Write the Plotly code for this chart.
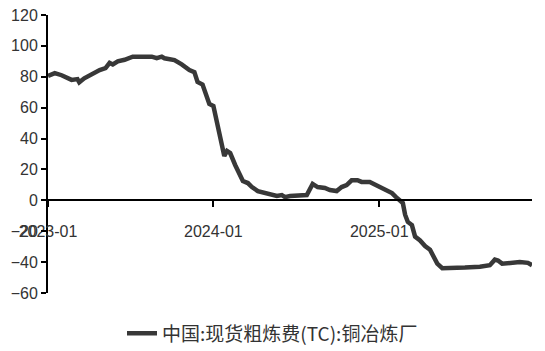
import plotly.graph_objects as go

dates = [
    "2023-01-01", "2023-01-16", "2023-01-31", "2023-02-14", "2023-02-22", "2023-03-07",
    "2023-03-11", "2023-03-22", "2023-04-07", "2023-04-25", "2023-05-08", "2023-05-17",
    "2023-05-24", "2023-06-04", "2023-06-19", "2023-07-07", "2023-07-22", "2023-08-07",
    "2023-08-18", "2023-08-29", "2023-09-09", "2023-09-15", "2023-10-07", "2023-10-23",
    "2023-11-09", "2023-11-20", "2023-11-27", "2023-12-08", "2023-12-14", "2023-12-23",
    "2024-01-01", "2024-01-12", "2024-01-20", "2024-01-25", "2024-01-31", "2024-02-07",
    "2024-02-18", "2024-02-29", "2024-03-06", "2024-03-17", "2024-03-26", "2024-04-08",
    "2024-04-24", "2024-05-09", "2024-05-20", "2024-05-31", "2024-06-07", "2024-06-18",
    "2024-07-10", "2024-07-25", "2024-08-07", "2024-08-18", "2024-09-03", "2024-09-14",
    "2024-09-29", "2024-10-10", "2024-10-21", "2024-11-01", "2024-11-14", "2024-11-23",
    "2024-12-11", "2024-12-28", "2025-01-13", "2025-01-29", "2025-02-07", "2025-02-16",
    "2025-02-22", "2025-02-27", "2025-03-05", "2025-03-14", "2025-03-21", "2025-04-01",
    "2025-04-12", "2025-04-23", "2025-05-02", "2025-05-09", "2025-05-20", "2025-06-02",
    "2025-06-17", "2025-07-09", "2025-08-11", "2025-09-02", "2025-09-13", "2025-09-20",
    "2025-09-29", "2025-10-16", "2025-11-07", "2025-11-25", "2025-12-04",
]
tc_values = [
    80.5, 82.4, 81.0, 79.0, 78.0, 78.5,
    76.4, 79.0, 81.8, 84.4, 85.6, 89.0,
    88.0, 90.0, 91.0, 93.0, 93.0, 92.8,
    93.0, 92.0, 93.0, 92.0, 90.8, 88.0,
    84.4, 83.0, 76.6, 75.0, 69.5, 62.4,
    61.0, 45.5, 32.6, 28.7, 32.0, 30.6,
    22.9, 16.4, 12.5, 11.2, 8.6, 6.0,
    4.7, 4.1, 2.8, 3.4, 2.1, 2.8,
    2.8, 3.4, 10.6, 8.6, 8.0, 6.7,
    6.0, 8.6, 9.9, 13.0, 13.0, 11.9,
    11.9, 9.3, 6.7, 4.7, 2.1, 0.2,
    -1.7, -9.3, -14.0, -16.0, -23.5, -26.0,
    -29.6, -32.0, -37.0, -41.0, -43.9, -43.9,
    -43.5, -43.5, -43.0, -42.0, -38.4, -39.0,
    -41.0, -40.5, -40.0, -40.5, -42.0,
]
series_name = "中国:现货粗炼费(TC):铜冶炼厂"
y_ticks = [-60, -40, -20, 0, 20, 40, 60, 80, 100, 120]
x_range = ["2023-01-01", "2025-12-04"]

fig = go.Figure()
fig.add_trace(go.Scatter(
    x=dates, y=tc_values, mode="lines", name=series_name,
    line=dict(color="#383838", width=4.5),
))

tick_font = dict(family="Liberation Sans, Arial, sans-serif", size=16, color="#333333")

fig.update_layout(
    width=545, height=351,
    margin=dict(l=48, r=13, t=15, b=58, autoexpand=False),
    paper_bgcolor="white", plot_bgcolor="white",
    showlegend=True,
    legend=dict(
        orientation="h", xref="container", yref="container",
        x=0.5, xanchor="center", y=0.05, yanchor="middle",
        font=dict(family="Noto Sans CJK SC, sans-serif", size=19, color="#333333"),
    ),
    xaxis=dict(
        type="date", range=x_range, dtick="M12", tick0="2023-01-01",
        tickformat="%Y-%m", showgrid=False, zeroline=False,
        showline=True, linecolor="black", linewidth=2,
        ticks="outside", ticklen=6, tickwidth=2, tickcolor="black",
        ticklabelstandoff=10,
        anchor="free", position=1/3,
        tickfont=tick_font, automargin=False,
    ),
    yaxis=dict(
        range=[-60, 120], tickvals=y_ticks, showgrid=False, zeroline=False,
        showline=True, linecolor="black", linewidth=2,
        ticks="outside", ticklen=5, tickwidth=2, tickcolor="black",
        tickfont=tick_font, automargin=False,
    ),
)

fig.write_html("out.html")
